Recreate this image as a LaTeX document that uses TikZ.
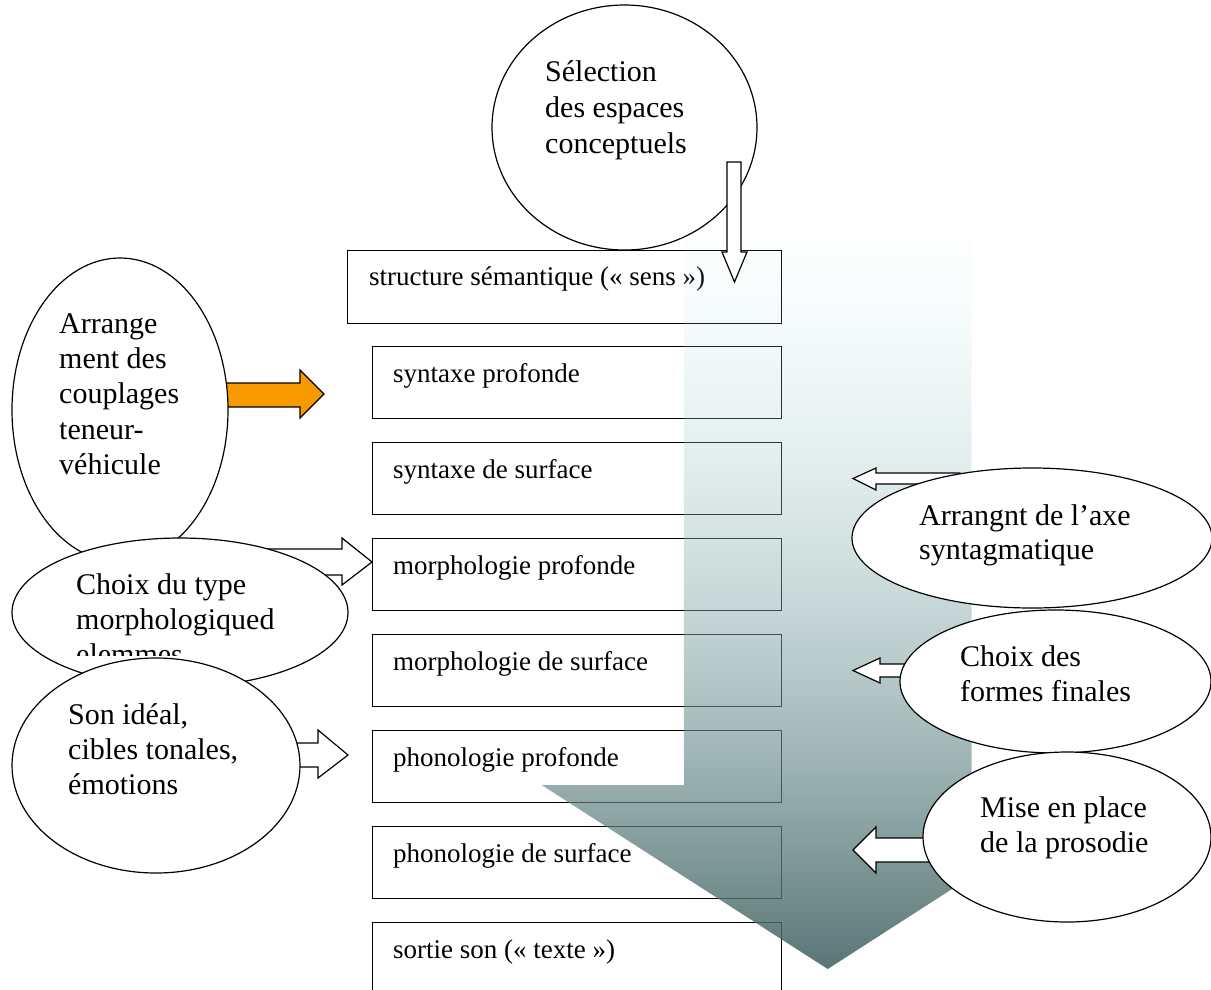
\documentclass[tikz,border=0pt]{standalone}
\usepackage{fontspec}
\setmainfont{Liberation Serif}
\usetikzlibrary{shapes.geometric,fadings}
\definecolor{orangeA}{RGB}{247,154,0}
\definecolor{gTop}{RGB}{205,240,240}
\definecolor{gMid}{RGB}{152,194,194}
\definecolor{gBot}{RGB}{66,98,98}
\begin{tikzfadingfrompicture}[name=arrowfade]
  \shade[top color=transparent!100, middle color=transparent!28, bottom color=transparent!6] (0,0) rectangle (2,2);
\end{tikzfadingfrompicture}
\begin{document}
\begin{tikzpicture}[x=1pt,y=-1pt,
  box/.style={draw, line width=1.4pt, fill=white, minimum width=409pt, minimum height=72pt, inner sep=0pt, anchor=north west},
  oval/.style={ellipse, draw, line width=1.2pt, fill=white, inner sep=0pt},
  blk/.style={draw, line width=1.2pt, fill=white, line join=miter},
  etxt/.style={font=\fontsize{30}{35}\selectfont, inner sep=0pt, anchor=base west},
  btxt/.style={font=\fontsize{27}{32}\selectfont, inner sep=0pt, anchor=base west}]
\useasboundingbox (0,0) rectangle (1211,989);

% level boxes
\node[box, minimum width=434pt, minimum height=73pt] (b0) at (347,250) {};
\foreach \i/\yy in {1/346,2/442,3/538,4/634,5/730,6/826,7/922}
  \node[box] (b\i) at (372,\yy) {};
\node[btxt] (t0) at (369,285) {structure sémantique («~sens~»)};
\node[btxt] (t1) at (393,382) {syntaxe profonde};
\node[btxt] (t2) at (393,478) {syntaxe de surface};
\node[btxt] (t3) at (393,574) {morphologie profonde};
\node[btxt] (t4) at (393,670) {morphologie de surface};
\node[btxt] (t5) at (393,766) {phonologie profonde};
\node[btxt] (t6) at (393,862) {phonologie de surface};
\node[btxt] (t7) at (393,958) {sortie son («~texte~»)};

% top ellipse
\node[oval, minimum width=265pt, minimum height=245pt] (sel) at (624.5,127.5) {};
\node[etxt] (sel1) at (545,81) {Sélection};
\node[etxt] (sel2) at (545,117) {des espaces};
\node[etxt] (sel3) at (545,153) {conceptuels};

% big gradient arrow
\shade[top color=gTop, middle color=gMid, bottom color=gBot, path fading=arrowfade, fit fading=true]
  (684,240) -- (972,240) -- (972,785) -- (1114,785) -- (828,969) -- (542,785) -- (684,785) -- cycle;

% small down arrow
\draw[blk] (727,162) -- (741,162) -- (741,252) -- (747,252) -- (734.5,282) -- (722,252) -- (727,252) -- cycle;

% left side
\draw[blk, fill=orangeA] (200,383) -- (300,383) -- (300,370) -- (324,394) -- (300,418) -- (300,407) -- (200,407) -- cycle;
\node[oval, minimum width=216pt, minimum height=304pt] (arr) at (120,410) {};
\node[etxt] (arr1) at (59,333) {Arrange};
\node[etxt] (arr2) at (59,368) {ment des};
\node[etxt] (arr3) at (59,403) {couplages};
\node[etxt] (arr4) at (59,439) {teneur-};
\node[etxt] (arr5) at (59,474) {véhicule};

\draw[blk] (220,549) -- (342,549) -- (342,538) -- (372,562) -- (342,585) -- (342,575) -- (220,575) -- cycle;
\node[oval, minimum width=336pt, minimum height=149pt] (cht) at (180,612.5) {};
\begin{scope}
\clip (0,530) rectangle (400,655);
\node[etxt] (cht1) at (76,594) {Choix du type};
\node[etxt] (cht2) at (76,629) {morphologiqued};
\node[etxt] (cht3) at (76,664) {elemmes};
\end{scope}

\draw[blk] (260,743) -- (318,743) -- (318,730) -- (348,755) -- (318,778) -- (318,767) -- (260,767) -- cycle;
\node[oval, minimum width=288pt, minimum height=215pt] (son) at (156,765.5) {};
\node[etxt] (son1) at (68,724) {Son idéal,};
\node[etxt] (son2) at (68,759) {cibles tonales,};
\node[etxt] (son3) at (68,794) {émotions};

% right side
\draw[blk] (960,473) -- (876,473) -- (876,468) -- (853,478.5) -- (876,490) -- (876,484) -- (960,484) -- cycle;
\node[oval, minimum width=360pt, minimum height=140pt] (axe) at (1032,538) {};
\node[etxt] (axe1) at (919,525) {Arrangnt de l’axe};
\node[etxt] (axe2) at (919,559) {syntagmatique};

\draw[blk] (960,664) -- (880,664) -- (880,658) -- (853,670.5) -- (880,683) -- (880,677) -- (960,677) -- cycle;
\node[oval, minimum width=311pt, minimum height=143pt] (cff) at (1055.5,681.5) {};
\node[etxt] (cff1) at (960,666) {Choix des};
\node[etxt] (cff2) at (960,701) {formes finales};

\draw[blk] (960,838) -- (876,838) -- (876,827) -- (853,850) -- (876,873) -- (876,862) -- (960,862) -- cycle;
\node[oval, minimum width=288pt, minimum height=170pt] (mpp) at (1067,837) {};
\node[etxt] (mpp1) at (980,817) {Mise en place};
\node[etxt] (mpp2) at (980,852) {de la prosodie};
\end{tikzpicture}
\end{document}
